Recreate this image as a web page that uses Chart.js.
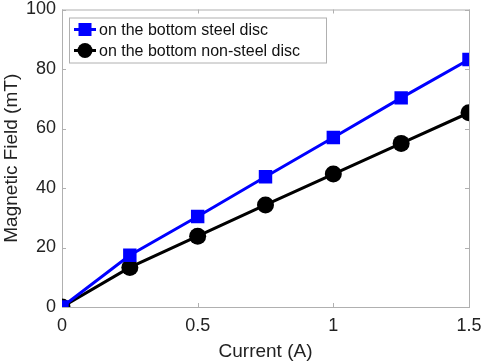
<!DOCTYPE html>
<html>
<head>
<meta charset="utf-8">
<script src="https://cdn.jsdelivr.net/npm/chart.js@4.4.1/dist/chart.umd.min.js"></script>
<style>
  html, body { margin: 0; padding: 0; background: #fff; }
  #wrap { width: 484px; height: 363px; }
</style>
</head>
<body>
<div id="wrap"><canvas id="myChart"></canvas></div>
<script>
// values
var current = [0, 0.25, 0.5, 0.75, 1, 1.25, 1.5];
var steelDisc = [0, 17.4, 30.4, 43.8, 57, 70.3, 83.2];
var nonSteelDisc = [0, 13.3, 23.8, 34.3, 44.7, 55, 65.3];
var xTicks = [0, 0.5, 1, 1.5];
var yTicks = [0, 20, 40, 60, 80, 100];
var seriesNames = ['on the bottom steel disc', 'on the bottom non-steel disc'];

function pairs(xs, ys) {
  return xs.map(function (x, i) { return { x: x, y: ys[i] }; });
}

var FONT = 'Liberation Sans, Arial, Helvetica, sans-serif';

// matlab style box + inward ticks
const boxPlugin = {
  id: 'boxPlugin',
  beforeDatasetsDraw(chart) {
    const c = chart.ctx, a = chart.chartArea;
    const xs = chart.scales.x, ys = chart.scales.y;
    c.save();
    c.strokeStyle = '#b0b0b0';
    c.lineWidth = 1;
    c.strokeRect(a.left + 0.5, a.top + 0.5, a.right - a.left, a.bottom - a.top);
    c.beginPath();
    xTicks.forEach(function (v) {
      const px = Math.round(xs.getPixelForValue(v)) + 0.5;
      c.moveTo(px, a.bottom); c.lineTo(px, a.bottom - 4);
      c.moveTo(px, a.top); c.lineTo(px, a.top + 4);
    });
    yTicks.forEach(function (v) {
      const py = Math.round(ys.getPixelForValue(v)) + 0.5;
      c.moveTo(a.left, py); c.lineTo(a.left + 4, py);
      c.moveTo(a.right, py); c.lineTo(a.right - 4, py);
    });
    c.stroke();
    c.restore();
  },
  afterDraw(chart) {
    const c = chart.ctx, a = chart.chartArea;
    const bx = a.left + 7, by = a.top + 8, bw = 257, bh = 45;
    c.save();
    c.fillStyle = '#fff';
    c.fillRect(bx, by, bw, bh);
    c.strokeStyle = '#b0b0b0';
    c.lineWidth = 1;
    c.strokeRect(bx + 0.5, by + 0.5, bw, bh);
    chart.data.datasets.forEach(function (ds, i) {
      const cy = by + 12 + i * 21;
      c.strokeStyle = ds.borderColor;
      c.lineWidth = 3;
      c.beginPath(); c.moveTo(bx + 5, cy); c.lineTo(bx + 27, cy); c.stroke();
      c.fillStyle = ds.backgroundColor;
      if (ds.pointStyle === 'rect') {
        c.fillRect(bx + 16 - 6.5, cy - 6.5, 13, 13);
      } else {
        c.beginPath(); c.arc(bx + 16, cy, 7.5, 0, Math.PI * 2); c.fill();
      }
      c.fillStyle = '#111';
      c.font = '16px ' + FONT;
      c.textBaseline = 'middle';
      c.textAlign = 'left';
      c.fillText(ds.label, bx + 30, cy + 1);
    });
    c.restore();
  }
};

const ctx = document.getElementById('myChart').getContext('2d');
const myChart = new Chart(ctx, {
  type: 'line',
  data: {
    datasets: [
      {
        label: seriesNames[0],
        data: pairs(current, steelDisc),
        borderColor: '#0000ff',
        backgroundColor: '#0000ff',
        borderWidth: 3,
        pointStyle: 'rect',
        pointRadius: 9.5,
        pointBorderWidth: 0,
        tension: 0
      },
      {
        label: seriesNames[1],
        data: pairs(current, nonSteelDisc),
        borderColor: '#000000',
        backgroundColor: '#000000',
        borderWidth: 3,
        pointStyle: 'circle',
        pointRadius: 8.5,
        pointBorderWidth: 0,
        tension: 0
      }
    ]
  },
  plugins: [boxPlugin],
  options: {
    responsive: true,
    maintainAspectRatio: false,
    animation: false,
    layout: { padding: { left: 0, top: 8, right: 15, bottom: 0 } },
    plugins: {
      legend: { display: false },
      tooltip: { enabled: false }
    },
    scales: {
      x: {
        type: 'linear',
        min: 0,
        max: 1.5,
        afterBuildTicks: function (s) { s.ticks = xTicks.map(function (v) { return { value: v }; }); },
        afterFit: function (s) { s.height = 56; s.paddingLeft = 0; s.paddingRight = 0; },
        grid: { display: false, drawTicks: false },
        border: { display: false },
        ticks: {
          color: '#222',
          font: { family: FONT, size: 18 },
          padding: 8,
          callback: function (v) { return String(v); }
        },
        title: {
          display: true,
          text: 'Current (A)',
          color: '#222',
          font: { family: FONT, size: 19 },
          padding: { top: 2, bottom: 0 }
        }
      },
      y: {
        min: 0,
        max: 100,
        afterBuildTicks: function (s) { s.ticks = yTicks.map(function (v) { return { value: v }; }); },
        afterFit: function (s) { s.width = 62; s.paddingTop = 0; s.paddingBottom = 0; },
        grid: { display: false, drawTicks: false },
        border: { display: false },
        ticks: {
          color: '#222',
          font: { family: FONT, size: 18 },
          padding: 6
        },
        title: {
          display: true,
          text: 'Magnetic Field (mT)',
          color: '#222',
          font: { family: FONT, size: 19 },
          padding: { top: 0, bottom: 0 }
        }
      }
    }
  }
});
</script>
</body>
</html>
